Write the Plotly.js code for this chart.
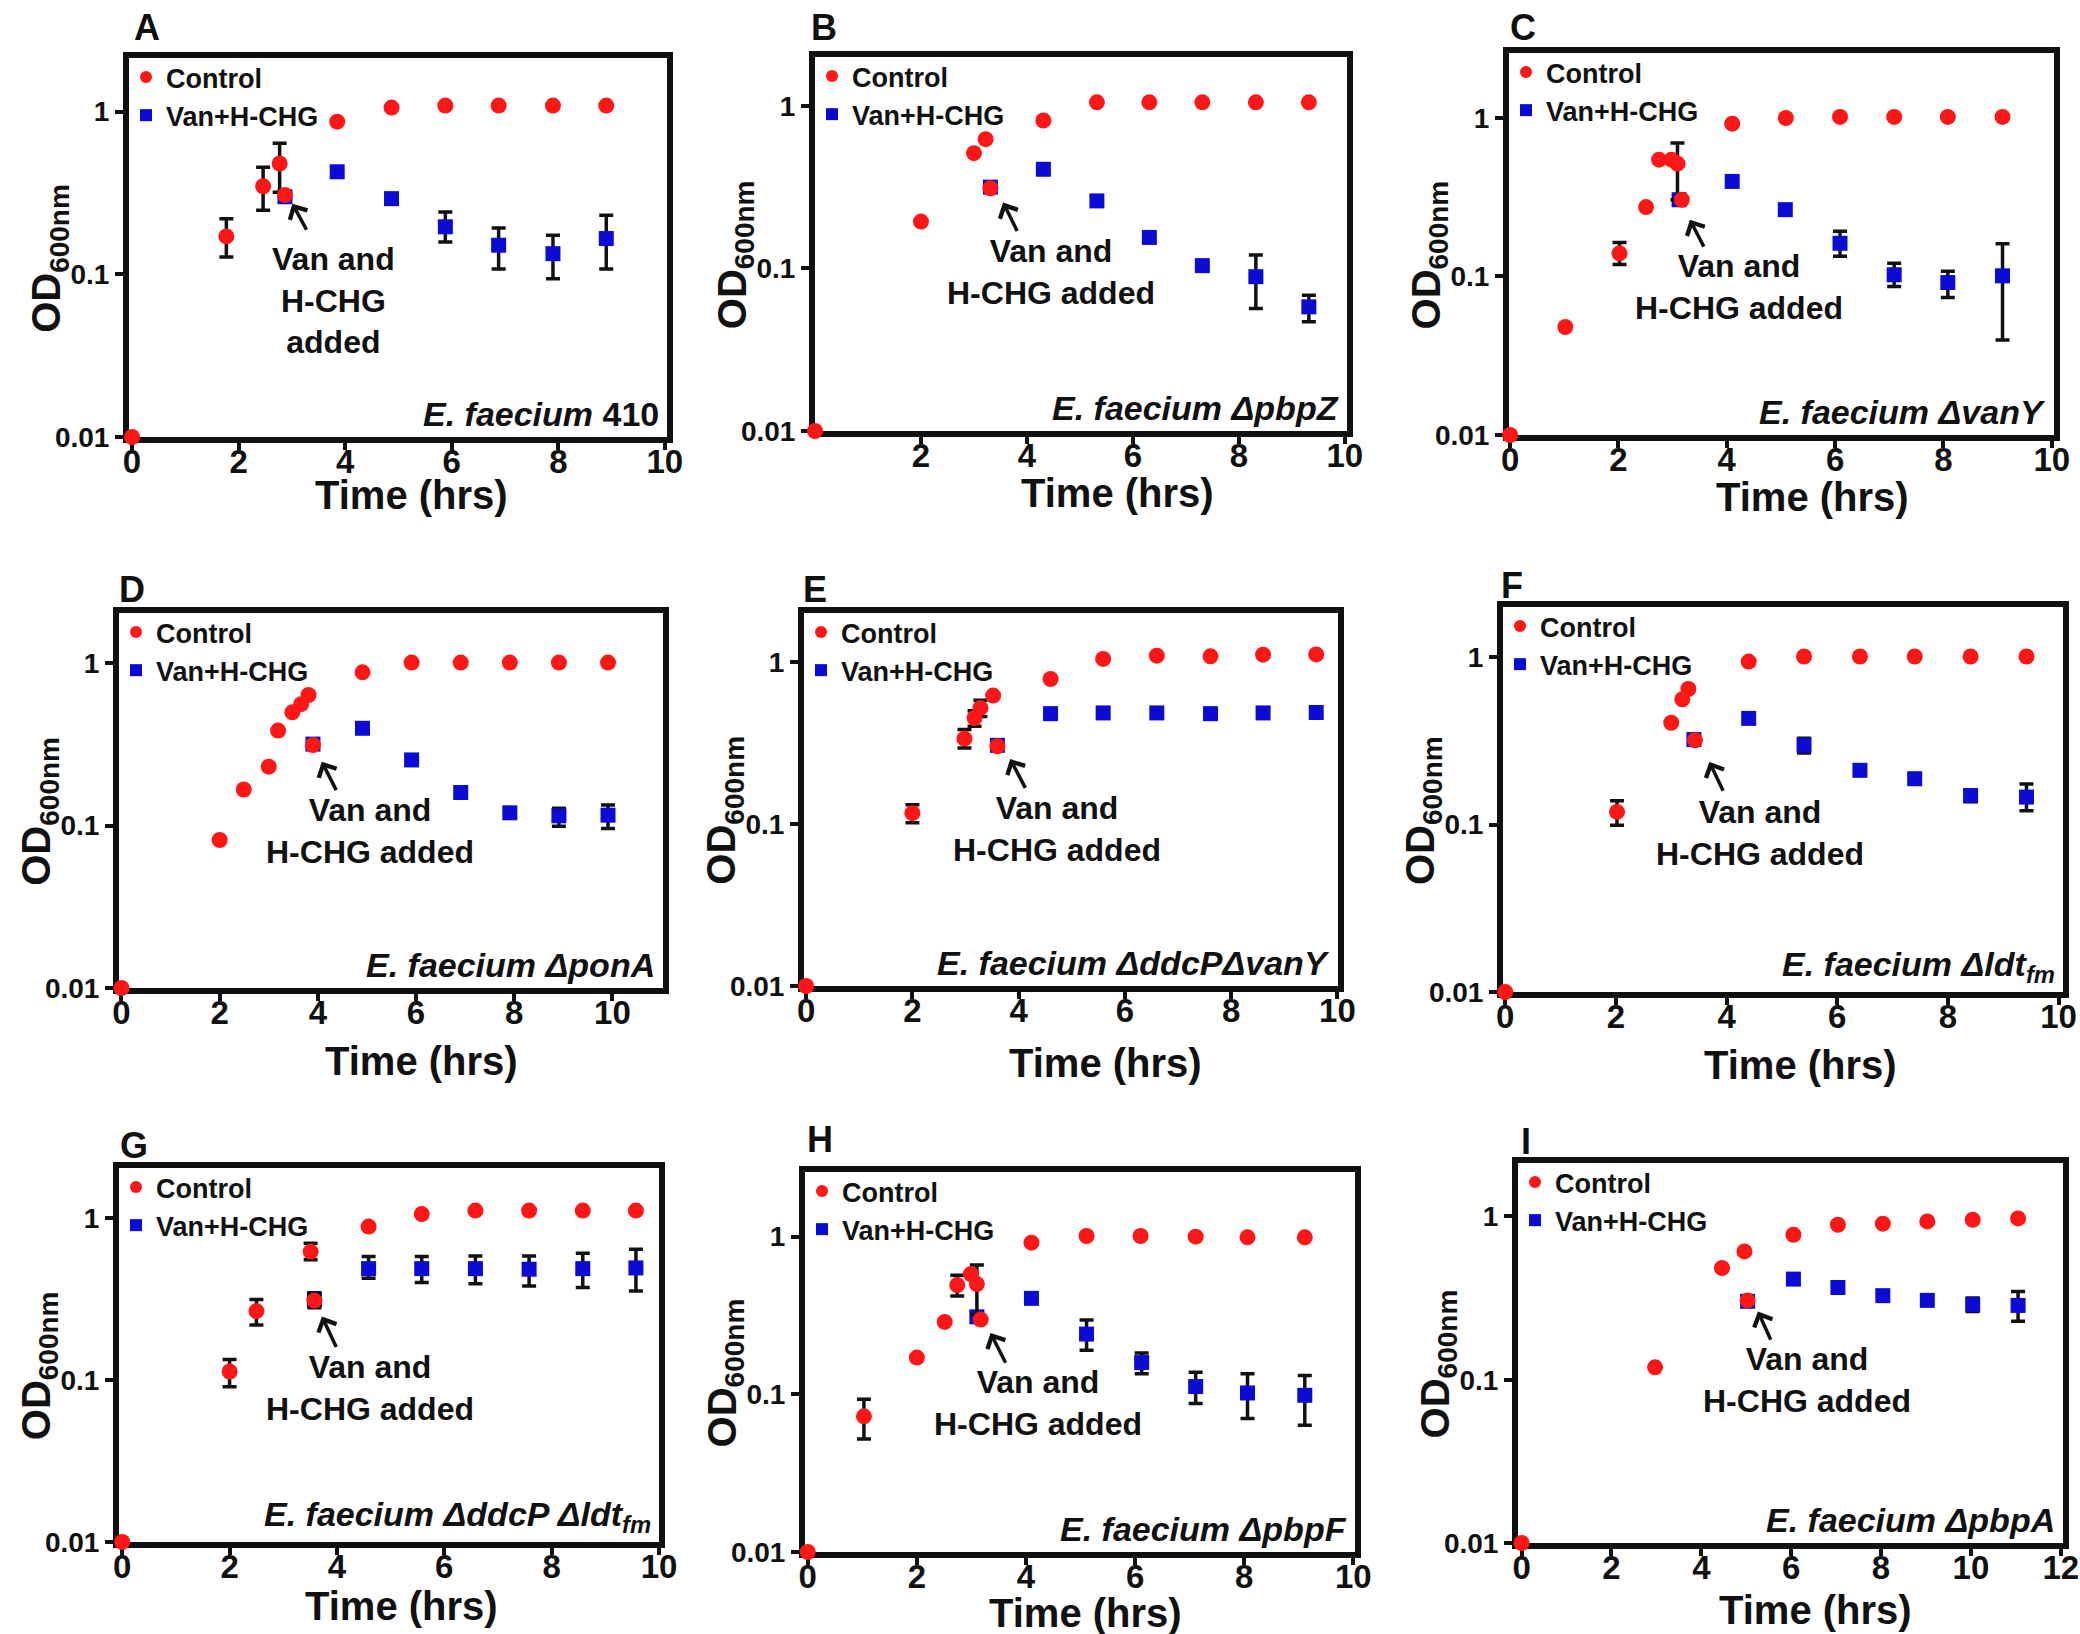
<!DOCTYPE html>
<html><head><meta charset="utf-8">
<script src="https://cdn.plot.ly/plotly-3.0.1.min.js"></script>
<style>html,body{margin:0;padding:0;background:#fff}#chart{width:2080px;height:1634px}</style>
</head><body><div id="chart"></div>
<script>
// ---------------- DATA ----------------
const seriesNames = ['Control', 'Van+H-CHG'];
const xTitle = 'Time (hrs)';
const yTitle = 'OD<sub>600nm</sub>';
const yTickVals = [0.01, 0.1, 1];
const yTickText = ['0.01', '0.1', '1'];
const panelLetters = ['A','B','C','D','E','F','G','H','I'];
const strainLabels = [
  '<i>E. faecium</i> 410',
  '<i>E. faecium ΔpbpZ</i>',
  '<i>E. faecium ΔvanY</i>',
  '<i>E. faecium ΔponA</i>',
  '<i>E. faecium ΔddcPΔvanY</i>',
  '<i>E. faecium Δldt<sub>fm</sub></i>',
  '<i>E. faecium ΔddcP Δldt<sub>fm</sub></i>',
  '<i>E. faecium ΔpbpF</i>',
  '<i>E. faecium ΔpbpA</i>'
];
const noteTexts = ['Van and<br>H-CHG<br>added','Van and<br>H-CHG added','Van and<br>H-CHG added',
  'Van and<br>H-CHG added','Van and<br>H-CHG added','Van and<br>H-CHG added',
  'Van and<br>H-CHG added','Van and<br>H-CHG added','Van and<br>H-CHG added'];
const xTicksA = [0,2,4,6,8,10];
const xTicksB = [2,4,6,8,10];
const xTicksI = [0,2,4,6,8,10,12];

// Panel A
const A_ctrlT  = [0, 1.77, 2.46, 2.77, 2.87, 3.85, 4.87, 5.88, 6.88, 7.9, 8.9];
const A_ctrlOD = [0.01, 0.171, 0.348, 0.48, 0.307, 0.868, 1.06, 1.09, 1.09, 1.09, 1.09];
const A_ctrlUp = [null, 0.049, 0.107, 0.16, null, null, null, null, null, null, null];
const A_ctrlDn = [null, 0.043, 0.10, 0.16, null, null, null, null, null, null, null];
const A_vanT   = [2.87, 3.85, 4.87, 5.88, 6.88, 7.9, 8.9];
const A_vanOD  = [0.30, 0.427, 0.292, 0.196, 0.151, 0.134, 0.166];
const A_vanUp  = [null, null, null, 0.046, 0.042, 0.040, 0.065];
const A_vanDn  = [null, null, null, 0.038, 0.043, 0.040, 0.058];

// Panel B
const B_ctrlT  = [0, 2.0, 3.0, 3.22, 3.31, 4.31, 5.32, 6.31, 7.31, 8.32, 9.32];
const B_ctrlOD = [0.01, 0.194, 0.511, 0.623, 0.311, 0.812, 1.05, 1.05, 1.05, 1.05, 1.05];
const B_ctrlUp = [null, null, null, null, null, null, null, null, null, null, null];
const B_ctrlDn = [null, null, null, null, null, null, null, null, null, null, null];
const B_vanT   = [3.31, 4.31, 5.32, 6.31, 7.31, 8.32, 9.32];
const B_vanOD  = [0.316, 0.407, 0.26, 0.155, 0.104, 0.0889, 0.058];
const B_vanUp  = [null, null, null, null, null, 0.032, 0.0104];
const B_vanDn  = [null, null, null, null, null, 0.0322, 0.011];

// Panel C
const C_ctrlT  = [0, 1.02, 2.02, 2.51, 2.75, 2.98, 3.09, 3.17, 4.1, 5.09, 6.09, 7.09, 8.08, 9.09];
const C_ctrlOD = [0.01, 0.048, 0.14, 0.274, 0.546, 0.546, 0.515, 0.305, 0.921, 1.0, 1.015, 1.015, 1.015, 1.015];
const C_ctrlUp = [null, null, 0.024, null, null, null, 0.18, null, null, null, null, null, null, null];
const C_ctrlDn = [null, null, 0.021, null, null, null, 0.21, null, null, null, null, null, null, null];
const C_vanT   = [3.12, 4.1, 5.08, 6.09, 7.09, 8.08, 9.09];
const C_vanOD  = [0.305, 0.398, 0.264, 0.162, 0.1025, 0.0916, 0.101];
const C_vanUp  = [null, null, null, 0.031, 0.0185, 0.0164, 0.06];
const C_vanDn  = [null, null, null, 0.028, 0.0159, 0.0178, 0.0612];

// Panel D
const D_ctrlT  = [0, 2.0, 2.49, 3.0, 3.19, 3.48, 3.66, 3.81, 3.9, 4.91, 5.91, 6.91, 7.91, 8.91, 9.91];
const D_ctrlOD = [0.01, 0.0816, 0.167, 0.231, 0.385, 0.499, 0.56, 0.638, 0.314, 0.88, 1.01, 1.01, 1.01, 1.01, 1.01];
const D_ctrlUp = [null, null, null, null, null, null, null, null, null, null, null, null, null, null, null];
const D_ctrlDn = [null, null, null, null, null, null, null, null, null, null, null, null, null, null, null];
const D_vanT   = [3.9, 4.91, 5.91, 6.91, 7.91, 8.91, 9.91];
const D_vanOD  = [0.318, 0.398, 0.254, 0.16, 0.12, 0.115, 0.116];
const D_vanUp  = [null, null, null, null, null, 0.013, 0.018];
const D_vanDn  = [null, null, null, null, null, 0.016, 0.02];

// Panel E
const E_ctrlT  = [0, 2.0, 2.98, 3.17, 3.28, 3.52, 3.6, 4.6, 5.59, 6.6, 7.61, 8.6, 9.6];
const E_ctrlOD = [0.01, 0.117, 0.338, 0.453, 0.523, 0.623, 0.303, 0.789, 1.05, 1.10, 1.09, 1.115, 1.12];
const E_ctrlUp = [null, 0.015, 0.046, 0.05, 0.06, null, null, null, null, null, null, null, null];
const E_ctrlDn = [null, 0.015, 0.042, 0.05, 0.06, null, null, null, null, null, null, null, null];
const E_vanT   = [3.6, 4.6, 5.59, 6.6, 7.61, 8.6, 9.6];
const E_vanOD  = [0.307, 0.482, 0.487, 0.487, 0.482, 0.487, 0.49];
const E_vanUp  = [null, null, null, null, null, null, null];
const E_vanDn  = [null, null, null, null, null, null, null];

// Panel F
const F_ctrlT  = [0, 2.02, 3.0, 3.2, 3.31, 3.43, 4.4, 5.4, 6.41, 7.4, 8.41, 9.42];
const F_ctrlOD = [0.01, 0.119, 0.406, 0.56, 0.646, 0.319, 0.942, 1.01, 1.01, 1.01, 1.01, 1.01];
const F_ctrlUp = [null, 0.02, null, null, null, null, null, null, null, null, null, null];
const F_ctrlDn = [null, 0.02, null, null, null, null, null, null, null, null, null, null];
const F_vanT   = [3.41, 4.4, 5.4, 6.41, 7.4, 8.41, 9.42];
const F_vanOD  = [0.322, 0.431, 0.298, 0.211, 0.188, 0.149, 0.146];
const F_vanUp  = [null, null, 0.03, null, null, 0.012, 0.029];
const F_vanDn  = [null, null, 0.03, null, null, 0.012, 0.025];

// Panel G
const G_ctrlT  = [0, 2.0, 2.5, 3.51, 3.58, 4.59, 5.58, 6.58, 7.58, 8.58, 9.57];
const G_ctrlOD = [0.01, 0.113, 0.267, 0.622, 0.31, 0.888, 1.06, 1.115, 1.115, 1.115, 1.115];
const G_ctrlUp = [null, 0.021, 0.048, 0.078, 0.03, null, null, null, null, null, null];
const G_ctrlDn = [null, 0.022, 0.048, 0.069, 0.03, null, null, null, null, null, null];
const G_vanT   = [3.58, 4.59, 5.58, 6.58, 7.58, 8.58, 9.57];
const G_vanOD  = [0.316, 0.488, 0.488, 0.488, 0.484, 0.488, 0.493];
const G_vanUp  = [0.03, 0.092, 0.092, 0.097, 0.101, 0.119, 0.15];
const G_vanDn  = [0.03, 0.063, 0.088, 0.095, 0.103, 0.115, 0.138];

// Panel H
const H_ctrlT  = [0, 1.03, 2.0, 2.51, 2.74, 2.99, 3.1, 3.17, 4.1, 5.11, 6.1, 7.11, 8.06, 9.11];
const H_ctrlOD = [0.01, 0.0725, 0.171, 0.288, 0.493, 0.579, 0.5, 0.298, 0.916, 1.01, 1.01, 1.0, 0.99, 0.99];
const H_ctrlUp = [null, 0.0205, null, null, 0.077, null, 0.16, null, null, null, null, null, null, null];
const H_ctrlDn = [null, 0.0205, null, null, 0.073, null, 0.18, null, null, null, null, null, null, null];
const H_vanT   = [3.1, 4.1, 5.11, 6.12, 7.11, 8.06, 9.11];
const H_vanOD  = [0.31, 0.406, 0.241, 0.159, 0.112, 0.102, 0.0986];
const H_vanUp  = [null, null, 0.055, 0.024, 0.026, 0.033, 0.033];
const H_vanDn  = [null, null, 0.051, 0.024, 0.0247, 0.0318, 0.035];

// Panel I
const I_ctrlT  = [0, 2.97, 4.46, 4.96, 5.03, 6.05, 7.04, 8.04, 9.03, 10.04, 11.05];
const I_ctrlOD = [0.01, 0.119, 0.483, 0.61, 0.306, 0.772, 0.889, 0.902, 0.932, 0.954, 0.972];
const I_ctrlUp = [null, null, null, null, null, null, null, null, null, null, null];
const I_ctrlDn = [null, null, null, null, null, null, null, null, null, null, null];
const I_vanT   = [5.03, 6.05, 7.04, 8.04, 9.03, 10.04, 11.05];
const I_vanOD  = [0.302, 0.413, 0.367, 0.327, 0.306, 0.288, 0.285];
const I_vanUp  = [null, null, null, null, null, 0.028, 0.062];
const I_vanDn  = [null, null, null, null, null, 0.026, 0.057];

// ---------------- LAYOUT / STYLE ----------------
const W = 2080, H = 1634;
const FONT = '"Liberation Sans", Arial, Helvetica, sans-serif';
const RED = '#ff1717', BLUE = '#0b0bd4', INK = '#111111';

const series = {
  A: [A_ctrlT, A_ctrlOD, A_ctrlUp, A_ctrlDn, A_vanT, A_vanOD, A_vanUp, A_vanDn],
  B: [B_ctrlT, B_ctrlOD, B_ctrlUp, B_ctrlDn, B_vanT, B_vanOD, B_vanUp, B_vanDn],
  C: [C_ctrlT, C_ctrlOD, C_ctrlUp, C_ctrlDn, C_vanT, C_vanOD, C_vanUp, C_vanDn],
  D: [D_ctrlT, D_ctrlOD, D_ctrlUp, D_ctrlDn, D_vanT, D_vanOD, D_vanUp, D_vanDn],
  E: [E_ctrlT, E_ctrlOD, E_ctrlUp, E_ctrlDn, E_vanT, E_vanOD, E_vanUp, E_vanDn],
  F: [F_ctrlT, F_ctrlOD, F_ctrlUp, F_ctrlDn, F_vanT, F_vanOD, F_vanUp, F_vanDn],
  G: [G_ctrlT, G_ctrlOD, G_ctrlUp, G_ctrlDn, G_vanT, G_vanOD, G_vanUp, G_vanDn],
  H: [H_ctrlT, H_ctrlOD, H_ctrlUp, H_ctrlDn, H_vanT, H_vanOD, H_vanUp, H_vanDn],
  I: [I_ctrlT, I_ctrlOD, I_ctrlUp, I_ctrlDn, I_vanT, I_vanOD, I_vanUp, I_vanDn]
};

// pixel boxes [left, right, top, bottom], x ranges, log y top, note/arrow placement,
// letter position, x-title offset [dx, dy below axis]
const geo = {
  A: {box:[129,667,58,437],  xr:[-0.057,10.04], yt:0.33,  xt:xTicksA, note:[3.79,0.069],  arr:[3.01,0.272,3.29,0.184], let:[147,28],  xtp:[13,58]},
  B: {box:[815,1347,57,431], xr:[0,10.04],      yt:0.30,  xt:xTicksB, note:[4.45,0.0954], arr:[3.55,0.254,3.83,0.166], let:[824,27],  xtp:[36,62]},
  C: {box:[1509,2054,53,435],xr:[-0.02,10.04],  yt:0.41,  xt:xTicksA, note:[4.23,0.0857], arr:[3.32,0.228,3.59,0.151], let:[1523,27], xtp:[31,62]},
  D: {box:[119,663,613,988], xr:[-0.05,11.03],  yt:0.31,  xt:xTicksA, note:[5.07,0.093],  arr:[4.08,0.248,4.39,0.162], let:[132,589], xtp:[31,73]},
  E: {box:[804,1338,613,986],xr:[-0.04,10.01],  yt:0.305, xt:xTicksA, note:[4.73,0.094],  arr:[3.84,0.253,4.14,0.164], let:[815,589], xtp:[34,77]},
  F: {box:[1503,2063,607,992],xr:[-0.04,10.08], yt:0.30,  xt:xTicksA, note:[4.6,0.0895],  arr:[3.69,0.237,3.95,0.156], let:[1512,585],xtp:[17,73]},
  G: {box:[119,659,1168,1542],xr:[-0.06,10.0],  yt:0.31,  xt:xTicksA, note:[4.62,0.0892], arr:[3.72,0.247,4.0,0.157],  let:[134,1145],xtp:[13,64]},
  H: {box:[805,1355,1172,1552],xr:[-0.05,10.03],yt:0.41,  xt:xTicksA, note:[4.22,0.088],  arr:[3.35,0.245,3.64,0.155], let:[820,1139],xtp:[5,61]},
  I: {box:[1518,2063,1163,1543],xr:[-0.08,12.05],yt:0.327,xt:xTicksI, note:[6.35,0.099],  arr:[5.26,0.262,5.56,0.172], let:[1526,1141],xtp:[25,67]}
};

const toNaN = a => a.map(v => (v === null ? NaN : v));
const traces = [];
const layout = {
  width: W, height: H, margin: {l:0, r:0, t:0, b:0},
  paper_bgcolor: '#ffffff', plot_bgcolor: '#ffffff',
  font: {family: FONT, color: INK, weight: 700},
  showlegend: true, annotations: []
};

panelLetters.forEach((id, i) => {
  const n = i === 0 ? '' : String(i + 1);
  const xa = 'x' + n, ya = 'y' + n, lg = 'legend' + n;
  const g = geo[id];
  const s = series[id];
  const [l, r, t, b] = g.box;

  // blue first so the red control circles sit on top; legendrank keeps Control first
  traces.push({
    type: 'scatter', mode: 'markers', x: s[4], y: s[5], xaxis: xa, yaxis: ya,
    name: seriesNames[1], legend: lg, legendrank: 2, cliponaxis: false,
    marker: {symbol: 'square', size: 15, color: BLUE},
    error_y: {type: 'data', symmetric: false, array: toNaN(s[6]), arrayminus: toNaN(s[7]),
              color: INK, thickness: 3.5, width: 7},
    hoverinfo: 'x+y'
  });
  traces.push({
    type: 'scatter', mode: 'markers', x: s[0], y: s[1], xaxis: xa, yaxis: ya,
    name: seriesNames[0], legend: lg, legendrank: 1, cliponaxis: false,
    marker: {symbol: 'circle', size: 16, color: RED},
    error_y: {type: 'data', symmetric: false, array: toNaN(s[2]), arrayminus: toNaN(s[3]),
              color: INK, thickness: 3.5, width: 7},
    hoverinfo: 'x+y'
  });

  layout['xaxis' + n] = {
    domain: [l / W, r / W], anchor: ya, range: g.xr, layer: 'below traces',
    tickmode: 'array', tickvals: g.xt, ticktext: g.xt.map(String),
    ticks: 'outside', ticklen: 7, tickwidth: 4, tickcolor: INK, ticklabelstandoff: -17,
    showline: true, linewidth: 6, linecolor: INK, mirror: true,
    showgrid: false, zeroline: false, fixedrange: true,
    tickfont: {family: FONT, size: 33, color: INK, weight: 700}
  };
  layout['yaxis' + n] = {
    domain: [1 - b / H, 1 - t / H], anchor: xa, type: 'log', range: [-2, g.yt], layer: 'below traces',
    tickmode: 'array', tickvals: yTickVals, ticktext: yTickText,
    ticks: 'outside', ticklen: 8, tickwidth: 4, tickcolor: INK,
    showline: true, linewidth: 6, linecolor: INK, mirror: true,
    showgrid: false, zeroline: false, fixedrange: true,
    tickfont: {family: FONT, size: 28, color: INK, weight: 700}
  };
  layout[lg] = {
    x: (l - 3) / W, y: 1 - (t - 5) / H, xanchor: 'left', yanchor: 'top',
    bgcolor: 'rgba(0,0,0,0)', borderwidth: 0, itemsizing: 'constant',
    traceorder: 'normal',
    font: {family: FONT, size: 27, color: INK, weight: 700}
  };

  // axis titles
  layout.annotations.push({
    xref: xa + ' domain', yref: ya + ' domain', x: 0.5, y: 0,
    xshift: g.xtp[0], yshift: -g.xtp[1], xanchor: 'center', yanchor: 'middle',
    showarrow: false, text: xTitle,
    font: {family: FONT, size: 40, color: INK, weight: 700}
  });
  layout.annotations.push({
    xref: xa + ' domain', yref: ya + ' domain', x: 0, y: 0.47,
    xshift: -80, xanchor: 'center', yanchor: 'middle', textangle: -90,
    showarrow: false, text: yTitle,
    font: {family: FONT, size: 40, color: INK, weight: 700}
  });
  // panel letter
  layout.annotations.push({
    xref: 'paper', yref: 'paper', x: g.let[0] / W, y: 1 - g.let[1] / H,
    xanchor: 'center', yanchor: 'middle', showarrow: false, text: id,
    font: {family: FONT, size: 36, color: INK, weight: 700}
  });
  // strain label
  layout.annotations.push({
    xref: xa + ' domain', yref: ya + ' domain', x: 1, y: 0, xshift: -6, yshift: 2,
    xanchor: 'right', yanchor: 'bottom', showarrow: false, text: strainLabels[i],
    font: {family: FONT, size: 34, color: INK, weight: 700}
  });
  // "Van and H-CHG added" note
  layout.annotations.push({
    xref: xa, yref: ya, x: g.note[0], y: Math.log10(g.note[1]),
    xanchor: 'center', yanchor: 'middle', showarrow: false, text: noteTexts[i],
    font: {family: FONT, size: 32, color: INK, weight: 700}
  });
  // arrow
  layout.annotations.push({
    xref: xa, yref: ya, axref: xa, ayref: ya,
    x: g.arr[0], y: Math.log10(g.arr[1]), ax: g.arr[2], ay: Math.log10(g.arr[3]),
    text: '', showarrow: true, arrowhead: 4, arrowsize: 1.1, arrowwidth: 3.5,
    arrowcolor: INK, standoff: 0, startstandoff: 0
  });
});

Plotly.newPlot('chart', traces, layout, {staticPlot: true, displayModeBar: false});
</script>
</body></html>
